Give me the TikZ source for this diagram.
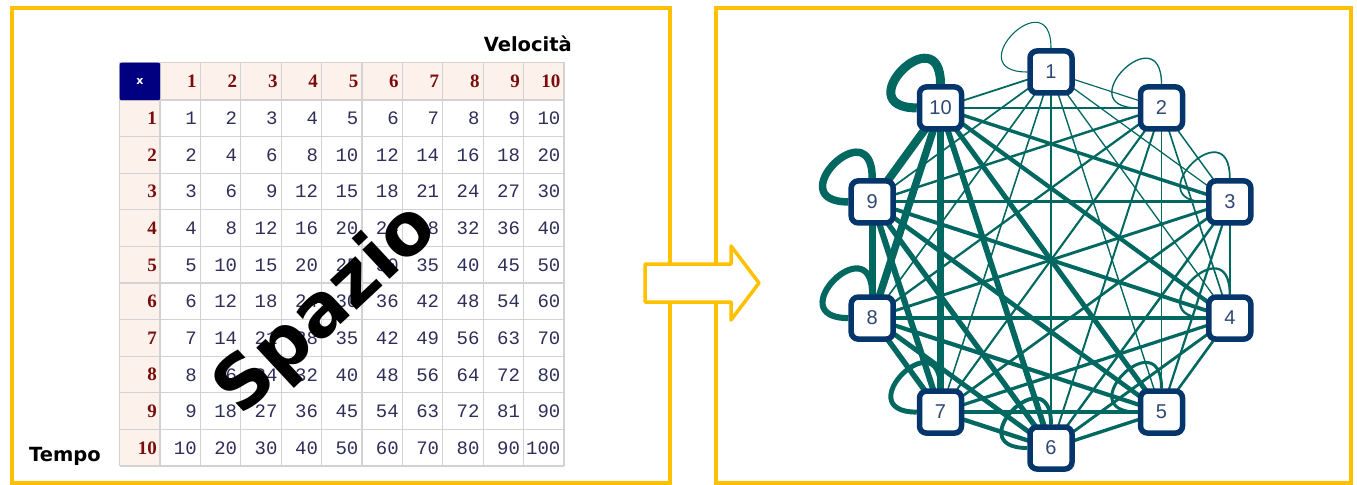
\documentclass[tikz,border=0pt]{standalone}
\usepackage{fontspec}
\setmainfont{Liberation Sans}
\newfontfamily\lsans{Liberation Sans}
\newfontfamily\dejavu{DejaVu Sans}
\newfontfamily\lmono{Liberation Mono}
\newfontfamily\lserif{Liberation Serif}
\definecolor{gold}{HTML}{FFC000}
\definecolor{edgec}{HTML}{006860}
\definecolor{navyb}{HTML}{05366B}
\definecolor{nodetxt}{HTML}{2E4775}
\definecolor{hdrred}{HTML}{7A0C0C}
\definecolor{cellnum}{HTML}{2E2E58}
\definecolor{gridc}{HTML}{D2D2D2}
\definecolor{hdrbg}{HTML}{FDF1EC}
\definecolor{xnavy}{HTML}{000080}
\pgfdeclarelayer{bg}
\pgfsetlayers{bg,main}
\tikzset{
  gridline/.style={draw=gridc, line width=1.2bp},
  hdr/.style={inner sep=0, text=hdrred, font=\lserif\bfseries\fontsize{19bp}{19bp}\selectfont},
  num/.style={inner sep=0, text=cellnum, font=\lmono\fontsize{19bp}{19bp}\selectfont},
  lbl/.style={inner sep=0, font=\dejavu\bfseries\fontsize{19.5bp}{19.5bp}\selectfont},
  gnode/.style={draw=navyb, line width=5.5bp, fill=white, rounded corners=7bp,
    minimum size=42bp, inner sep=0, text=nodetxt, font=\lsans\fontsize{20bp}{20bp}\selectfont},
  frame/.style={draw=gold, line width=4bp},
  edge/.style={draw=edgec}
}
\begin{document}
\begin{tikzpicture}[x=1bp,y=-1bp]
\useasboundingbox (0,0) rectangle (1357,485);
% frames
\draw[frame] (12,8) rectangle (670,482.5);
\draw[frame] (716,8) rectangle (1351,482.5);
% block arrow
\draw[gold, line width=3.5bp, fill=white, line join=round]
  (645,264) -- (731,264) -- (731,246) -- (759,283) -- (731,320) -- (731,302) -- (645,302) -- cycle;
% table backgrounds
\fill[hdrbg] (160,62.5) rectangle (564,100);
\fill[hdrbg] (119.5,100) rectangle (160,466);
% grid
\foreach \k in {0,...,10}{
  \draw[gridline] ({160+40.4*\k},62.5) -- ({160+40.4*\k},466);
  \draw[gridline] (119.5,{100+36.6*\k}) -- (564,{100+36.6*\k});
}
\draw[gridline] (119.5,62.5) -- (119.5,466);
\draw[gridline] (119.5,62.5) -- (564,62.5);
% corner cell
\node[fill=xnavy, rounded corners=2bp, minimum width=40.5bp, minimum height=37.5bp, inner sep=0,
  anchor=north west, text=white, font=\dejavu\bfseries\fontsize{11bp}{11bp}\selectfont] (xcell) at (119.5,62.5) {x};
% header numbers
\foreach \j in {1,...,10}{
  \node[hdr, anchor=base east] (h\j) at ({160+40.4*\j-3.5},87.8) {\j};
}
% rows
\foreach \i in {1,...,10}{
  \node[hdr, anchor=base east] (r\i) at (157,{100+36.6*\i-18.3+6.4}) {\i};
  \foreach \j in {1,...,10}{
    \pgfmathtruncatemacro\v{\i*\j}
    \node[num, anchor=base east] (c\i-\j) at ({160+40.4*\j-3.5},{100+36.6*\i-18.3+6.5}) {\v};
  }
}
% labels
\node[lbl, anchor=base east] (velocita) at (572,51.5) {Velocità};
\node[lbl, anchor=base west] (tempo) at (29,461) {Tempo};
\node[font=\dejavu\bfseries\fontsize{73bp}{73bp}\selectfont, rotate=43, inner sep=0] (spazio) at (327,310) {Spazio};
% graph nodes
\foreach \k in {1,...,10}{
  \pgfmathsetmacro\ang{90-36*(\k-1)}
  \node[gnode] (n\k) at ({1051+188*cos(\ang)},{260-188*sin(\ang)}) {\k};
}
% edges
\begin{pgfonlayer}{bg}
\foreach \i in {1,...,10}{
  \foreach \j in {\i,...,10}{
    \pgfmathsetmacro\w{1.0+0.08*\i*\j}
    \ifnum\i=\j
      \draw[edge, line width=\w bp] (n\i.north) .. controls +(0,-70) and +(-70,0) .. (n\i.west);
    \else
      \draw[edge, line width=\w bp] (n\i.center) -- (n\j.center);
    \fi
  }
}
\end{pgfonlayer}
\end{tikzpicture}
\end{document}
